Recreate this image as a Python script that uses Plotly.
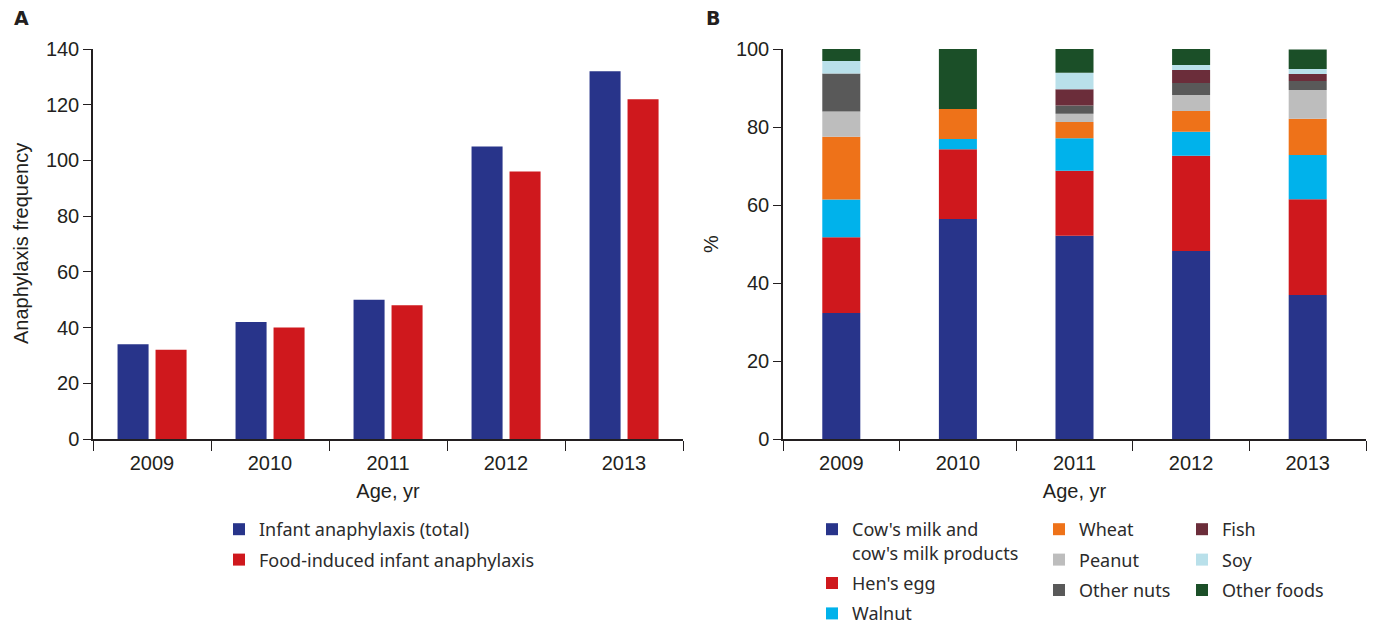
import plotly.graph_objects as go
import numpy as np

# ---- data ----
years = ["2009", "2010", "2011", "2012", "2013"]

infant_total = [34, 42, 50, 105, 132]
food_induced = [32, 40, 48, 96, 122]

# share of food-induced cases by trigger food (%), bottom to top of each stack
cows_milk = [32.3, 56.4, 52.1, 48.2, 36.9]
hens_egg = [19.4, 17.9, 16.7, 24.4, 24.6]
walnut = [9.7, 2.6, 8.3, 6.2, 11.3]
wheat = [16.1, 7.7, 4.2, 5.3, 9.3]
peanut = [6.5, 0.0, 2.1, 4.1, 7.4]
other_nuts = [9.7, 0.0, 2.1, 3.1, 2.3]
fish = [0.0, 0.0, 4.2, 3.3, 1.8]
soy = [3.2, 0.0, 4.2, 1.3, 1.3]
other_foods = [3.1, 15.4, 6.1, 4.1, 5.0]

food_names = [
    "Cow's milk and<br>cow's milk products", "Hen's egg", "Walnut",
    "Wheat", "Peanut", "Other nuts",
    "Fish", "Soy", "Other foods",
]
food_values = [cows_milk, hens_egg, walnut, wheat, peanut, other_nuts,
               fish, soy, other_foods]
food_colors = ["#28348a", "#cf181d", "#00b2eb", "#ee7219", "#bdbdbd",
               "#595959", "#6b2d3a", "#b9e0ea", "#1b4f28"]
food_legends = ["legend2"] * 3 + ["legend3"] * 3 + ["legend4"] * 3

W, H = 1377, 625
# plot-area edges in pixels
L, R, T, B = 93, 1366, 49, 439
TICK_FONT = dict(family="Liberation Sans", size=20, color="#231f20")
LEG_FONT = dict(family="Noto Sans", size=18, color="#2b2b2b")
AXCOL = "#231f20"


def px_x(p):
    return (p - L) / (R - L)


def px_y(p):
    return (B - p) / (B - T)


fig = go.Figure()

# ---- panel A: grouped bars ----
fig.add_bar(x=years, y=infant_total, name="Infant anaphylaxis (total)",
            marker_color="#28348a", marker_line_width=0,
            width=0.263, offset=-0.292, xaxis="x", yaxis="y",
            legend="legend", legendgroup="a1")
fig.add_bar(x=years, y=food_induced, name="Food-induced infant anaphylaxis",
            marker_color="#cf181d", marker_line_width=0,
            width=0.263, offset=0.03, xaxis="x", yaxis="y",
            legend="legend", legendgroup="a2")

# ---- panel B: stacked percentage bars ----
base = np.zeros(len(years))
for i, (name, vals, col, leg) in enumerate(zip(food_names, food_values,
                                              food_colors, food_legends)):
    fig.add_bar(x=years, y=vals, base=base.copy(), name=name,
                marker_color=col, marker_line_width=0,
                width=0.326, offset=-0.163, xaxis="x2", yaxis="y2",
                legend=leg, legendgroup=f"b{i}")
    base = base + np.array(vals)

xa = dict(type="category", range=[-0.5, 4.5], showline=True, linecolor=AXCOL,
          linewidth=1.5, ticks="outside", tickson="boundaries", ticklen=10,
          tickwidth=1.3, tickcolor=AXCOL, tickfont=TICK_FONT, showgrid=False,
          zeroline=False, ticklabelstandoff=5,
          title=dict(text="Age, yr", font=TICK_FONT, standoff=11))
ya = dict(showline=True, linecolor=AXCOL, linewidth=1.5, ticks="outside",
          ticklen=8, tickwidth=1.3, tickcolor=AXCOL, tickfont=TICK_FONT,
          showgrid=False, zeroline=False)


def legend_at(x_px, y_px):
    # position in whole-figure fractions
    return dict(x=x_px / W, y=1 - y_px / H, xref="container", yref="container",
                xanchor="left", yanchor="top", font=LEG_FONT,
                tracegroupgap=4, traceorder="grouped",
                bgcolor="rgba(0,0,0,0)", valign="top")


def text_at(text, x_px, y_px, size, angle=0, bold=False, family=None):
    return dict(text=f"<b>{text}</b>" if bold else text,
                x=px_x(x_px), y=px_y(y_px), xref="paper", yref="paper",
                showarrow=False, xanchor="center" if angle else "left",
                yanchor="middle", textangle=angle,
                font=dict(family=family or TICK_FONT["family"], size=size,
                          color="#231f20"))


fig.update_layout(
    width=W, height=H, barmode="overlay",
    paper_bgcolor="white", plot_bgcolor="white",
    margin=dict(l=L, r=W - R, t=T, b=H - B, autoexpand=False),
    xaxis=dict(xa, domain=[0, px_x(683)], anchor="y"),
    yaxis=dict(ya, domain=[0, 1], range=[0, 140], dtick=20, anchor="x"),
    xaxis2=dict(xa, domain=[px_x(783), 1], anchor="y2"),
    yaxis2=dict(ya, domain=[0, 1], range=[0, 100], dtick=20, anchor="x2"),
    showlegend=True,
    legend=legend_at(219, 511),
    legend2=legend_at(812, 511),
    legend3=legend_at(1039, 511),
    legend4=legend_at(1182, 511),
    annotations=[
        text_at("A", 12, 18, 19, bold=True, family="DejaVu Sans"),
        text_at("B", 704, 18, 19, bold=True, family="DejaVu Sans"),
        text_at("Anaphylaxis frequency", 21, 244, 20, angle=-90),
        text_at("%", 711, 244, 20, angle=-90),
    ],
)

fig.write_html("out.html")
